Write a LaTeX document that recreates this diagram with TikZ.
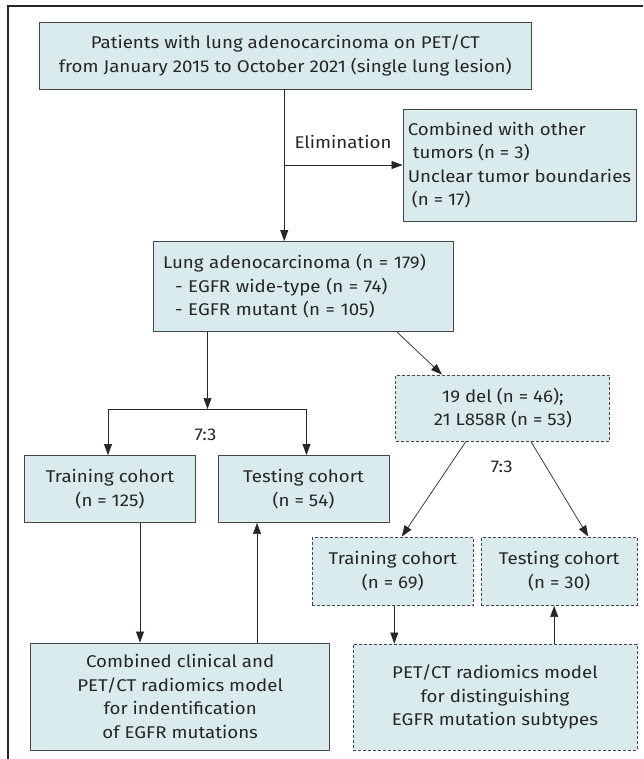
\documentclass[tikz,border=0pt]{standalone}
\usepackage{fontspec}
\setmainfont[FakeStretch=1.1]{Fira Sans}
\usepackage{tikz}
\usetikzlibrary{arrows.meta,positioning}

\definecolor{boxfill}{RGB}{217,235,237}
\definecolor{edgegray}{RGB}{70,70,70}

\tikzset{
  box/.style={draw=edgegray, line width=0.9pt, fill=boxfill, inner sep=0pt,
    font=\fontsize{17}{23.5}\selectfont, text=black!85},
  dbox/.style={box, dash pattern=on 3pt off 2pt},
  lbl/.style={font=\fontsize{17}{23.5}\selectfont, text=black!85},
  flow/.style={draw=black!85, line width=0.7pt, -{Triangle[length=11pt,width=8pt]}}
}

\begin{document}
\begin{tikzpicture}[x=1pt,y=-1pt]
\useasboundingbox (0,0) rectangle (643,759);
% frame
\draw[line width=1.4pt, black!85] (643,6) -- (8,6) -- (8,759);

\node[box, minimum width=491.5pt, minimum height=67pt, align=center] (patients) at (285.25,55.5)
  {Patients with lung adenocarcinoma on PET/CT\\from January 2015 to October 2021 (single lung lesion)};
\node[box, minimum width=233pt, minimum height=112pt, align=left] (excluded) at (519.5,165)
  {Combined with other\\\hspace*{5pt}tumors (n = 3)\\Unclear tumor boundaries\\\hspace*{4pt}(n = 17)};
\node[box, minimum width=300pt, minimum height=90pt, align=left, text width=281pt] (lung) at (303.5,286.5)
  {Lung adenocarcinoma (n = 179)\\\hspace*{12pt}- EGFR wide-type (n = 74)\\\hspace*{12pt}- EGFR mutant (n = 105)};

\node[box, minimum width=171pt, minimum height=67pt, align=center] (trainA) at (110,489)
  {Training cohort\\(n = 125)};
\node[box, minimum width=171pt, minimum height=67pt, align=center] (testA) at (303.5,489)
  {Testing cohort\\(n = 54)};
\node[box, minimum width=299pt, minimum height=107pt, align=center] (modelA) at (180.2,696.5)
  {Combined clinical and\\PET/CT radiomics model\\for indentification\\of EGFR mutations};

\node[dbox, minimum width=214pt, minimum height=66pt, align=center] (subtype) at (502.9,408)
  {19 del (n = 46);\\21 L858R (n = 53)};
\node[dbox, minimum width=161pt, minimum height=68.5pt, align=center] (trainB) at (392.8,571.25)
  {Training cohort\\(n = 69)};
\node[dbox, minimum width=155.5pt, minimum height=68.5pt, align=center] (testB) at (559.2,571.25)
  {Testing cohort\\(n = 30)};
\node[dbox, minimum width=284pt, minimum height=106pt, align=center] (modelB) at (495,697)
  {PET/CT radiomics model\\for distinguishing\\EGFR mutation subtypes};

\coordinate (split) at (207.5,409);

% connectors
\draw[flow] ([xshift=-1pt]patients.south) -- ([xshift=-1pt]patients.south |- lung.north);
\draw[flow] ([xshift=-1pt]patients.south |- excluded.west) -- (excluded.west);
\node[lbl, anchor=base west] (elim) at (291,149) {Elimination};

\draw[flow] (lung.south -| split) -- (split);
\draw[line width=0.7pt, black!85] ([xshift=-2pt]trainA.north |- split) -- ([xshift=3pt]testA.north |- split);
\draw[flow] ([xshift=-2pt]trainA.north |- split) -- ([xshift=-2pt]trainA.north);
\draw[flow] ([xshift=3pt]testA.north |- split) -- ([xshift=3pt]testA.north);
\node[lbl] (ratioA) at (205.5,435) {7:3};

\draw[flow] ([xshift=30pt]trainA.south) -- ([xshift=30pt]trainA.south |- modelA.north);
\draw[flow] ([xshift=-46.5pt]testA.south |- modelA.north) -- ([xshift=-46.5pt]testA.south);

\draw[flow] ([xshift=-57pt]lung.south east) -- ([xshift=-61pt]subtype.north);
\draw[flow] ([xshift=-37pt]subtype.south) -- ([xshift=9pt]trainB.north);
\draw[flow] ([xshift=28pt]subtype.south) -- ([xshift=29pt]testB.north);
\node[lbl] (ratioB) at (501.7,466.7) {7:3};

\draw[flow] ([xshift=1.5pt]trainB.south) -- ([xshift=1.5pt]trainB.south |- modelB.north);
\draw[flow] ([xshift=-5pt]testB.south |- modelB.north) -- ([xshift=-5pt]testB.south);
\end{tikzpicture}
\end{document}
